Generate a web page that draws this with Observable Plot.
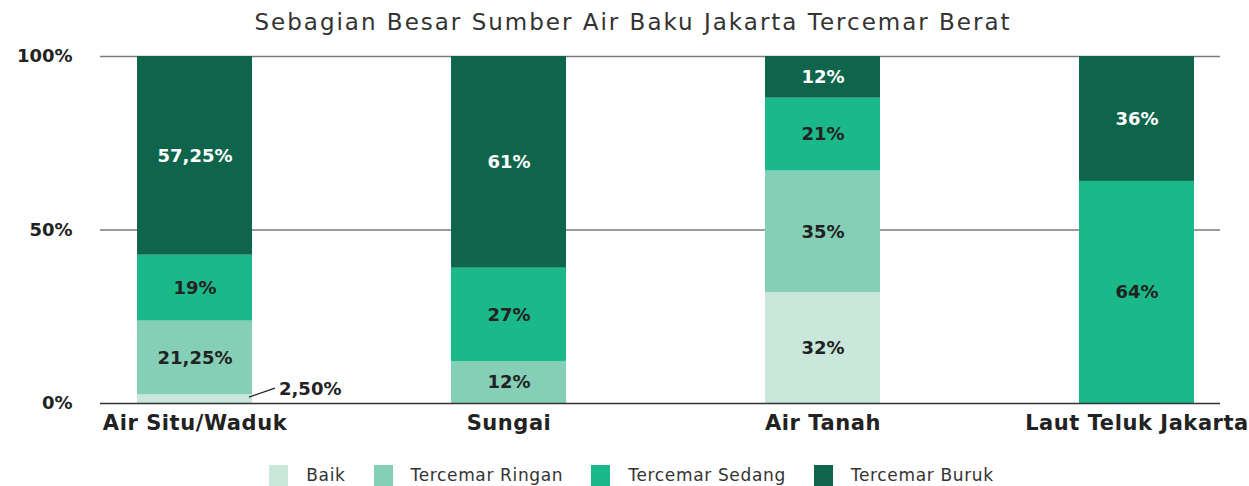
<!DOCTYPE html>
<html><head><meta charset="utf-8">
<script src="https://cdn.jsdelivr.net/npm/d3@7"></script>
<script src="https://cdn.jsdelivr.net/npm/@observablehq/plot@0.6"></script>
<style>
body{margin:0;background:#fff;font-family:"DejaVu Sans",sans-serif;width:1249px;}
#title{height:44px;line-height:44px;font-size:23px;color:#333;text-align:center;padding-left:17px;box-sizing:border-box;letter-spacing:2px;font-weight:400;}
#chart svg{display:block;color:#222;}
#chart svg g[aria-label="x-axis tick label"] text{letter-spacing:0.55px;}
#legend{display:flex;justify-content:center;align-items:center;height:36px;padding-top:6px;padding-left:14px;box-sizing:border-box;font-size:17px;letter-spacing:0.65px;color:#333;}
.item{display:flex;align-items:center;margin:0 14px;}
.sw{width:19px;height:21px;margin-right:18px;}
</style></head><body>
<div id="title">Sebagian Besar Sumber Air Baku Jakarta Tercemar Berat</div>
<div id="chart"></div>
<div id="legend"></div>
<script>
const categories = ["Air Situ/Waduk", "Sungai", "Air Tanah", "Laut Teluk Jakarta"];
const series = ["Baik", "Tercemar Ringan", "Tercemar Sedang", "Tercemar Buruk"];
const colors = ["#c9e7db", "#86cfb7", "#1bb98a", "#0e654c"];
const baik   = [2.5, 0, 32, 0];
const ringan = [21.25, 12, 35, 0];
const sedang = [19, 27, 21, 64];
const buruk  = [57.25, 61, 12, 36];
const labelsBaik   = ["", "", "32%", ""];
const labelsRingan = ["21,25%", "12%", "35%", ""];
const labelsSedang = ["19%", "27%", "21%", "64%"];
const labelsBuruk  = ["57,25%", "61%", "12%", "36%"];
const calloutCategory = "Air Situ/Waduk";
const calloutLabel = "2,50%";
const yTicks = [0, 50, 100];

const values = [baik, ringan, sedang, buruk];
const labels = [labelsBaik, labelsRingan, labelsSedang, labelsBuruk];
const rows = [];
series.forEach((s, si) => categories.forEach((c, ci) => {
  if (values[si][ci] > 0) rows.push({category: c, series: s, value: values[si][ci], label: labels[si][ci]});
}));

const plot = Plot.plot({
  width: 1249, height: 410,
  marginTop: 12, marginBottom: 51, marginLeft: 100, marginRight: 29,
  style: {fontFamily: '"DejaVu Sans", sans-serif', background: "#fff"},
  x: {domain: categories, range: [36.75, 1294.75], paddingInner: 0.633, paddingOuter: 0.3165, label: null},
  y: {domain: [0, 100], label: null},
  color: {domain: series, range: colors},
  marks: [
    Plot.ruleY([50, 100], {stroke: "#7a7a7a", strokeWidth: 1.5}),
    Plot.barY(rows, Plot.stackY({x: "category", y: "value", fill: "series", order: series})),
    Plot.ruleY([0], {stroke: "#333", strokeWidth: 1.5}),
    Plot.text(rows, Plot.stackY({x: "category", y: "value", z: "series", order: series,
      text: d => d.series === "Tercemar Buruk" ? "" : d.label, fill: "#222", fontSize: 18, fontWeight: 700})),
    Plot.text(rows, Plot.stackY({x: "category", y: "value", z: "series", order: series,
      text: d => d.series === "Tercemar Buruk" ? d.label : "", fill: "#fff", fontSize: 18, fontWeight: 700})),
    Plot.text([calloutLabel], {x: () => calloutCategory, y: [4], text: d => d, dx: 84, textAnchor: "start", fill: "#222", fontSize: 18, fontWeight: 700}),
    Plot.axisY(yTicks, {tickSize: 0, tickPadding: 28, tickFormat: d => d + "%", fontSize: 18, fontWeight: 700, label: null}),
    Plot.axisX({tickSize: 0, tickPadding: 12, fontSize: 21, fontWeight: 700, label: null})
  ]
});
document.getElementById("chart").appendChild(plot);

// leader line for the small callout, positioned with the plot's own scales
const xs = plot.scale("x"), ys = plot.scale("y");
const right = xs.apply(calloutCategory) + xs.bandwidth;
d3.select(plot).append("line")
  .attr("x1", right - 3).attr("y1", ys.apply(1.7))
  .attr("x2", right + 23).attr("y2", ys.apply(4.3))
  .attr("stroke", "#222").attr("stroke-width", 1.2);

const legend = document.getElementById("legend");
series.forEach((s, i) => {
  const it = document.createElement("div"); it.className = "item";
  const sw = document.createElement("div"); sw.className = "sw"; sw.style.background = colors[i];
  const t = document.createElement("span"); t.textContent = s;
  it.appendChild(sw); it.appendChild(t); legend.appendChild(it);
});
</script>
</body></html>
